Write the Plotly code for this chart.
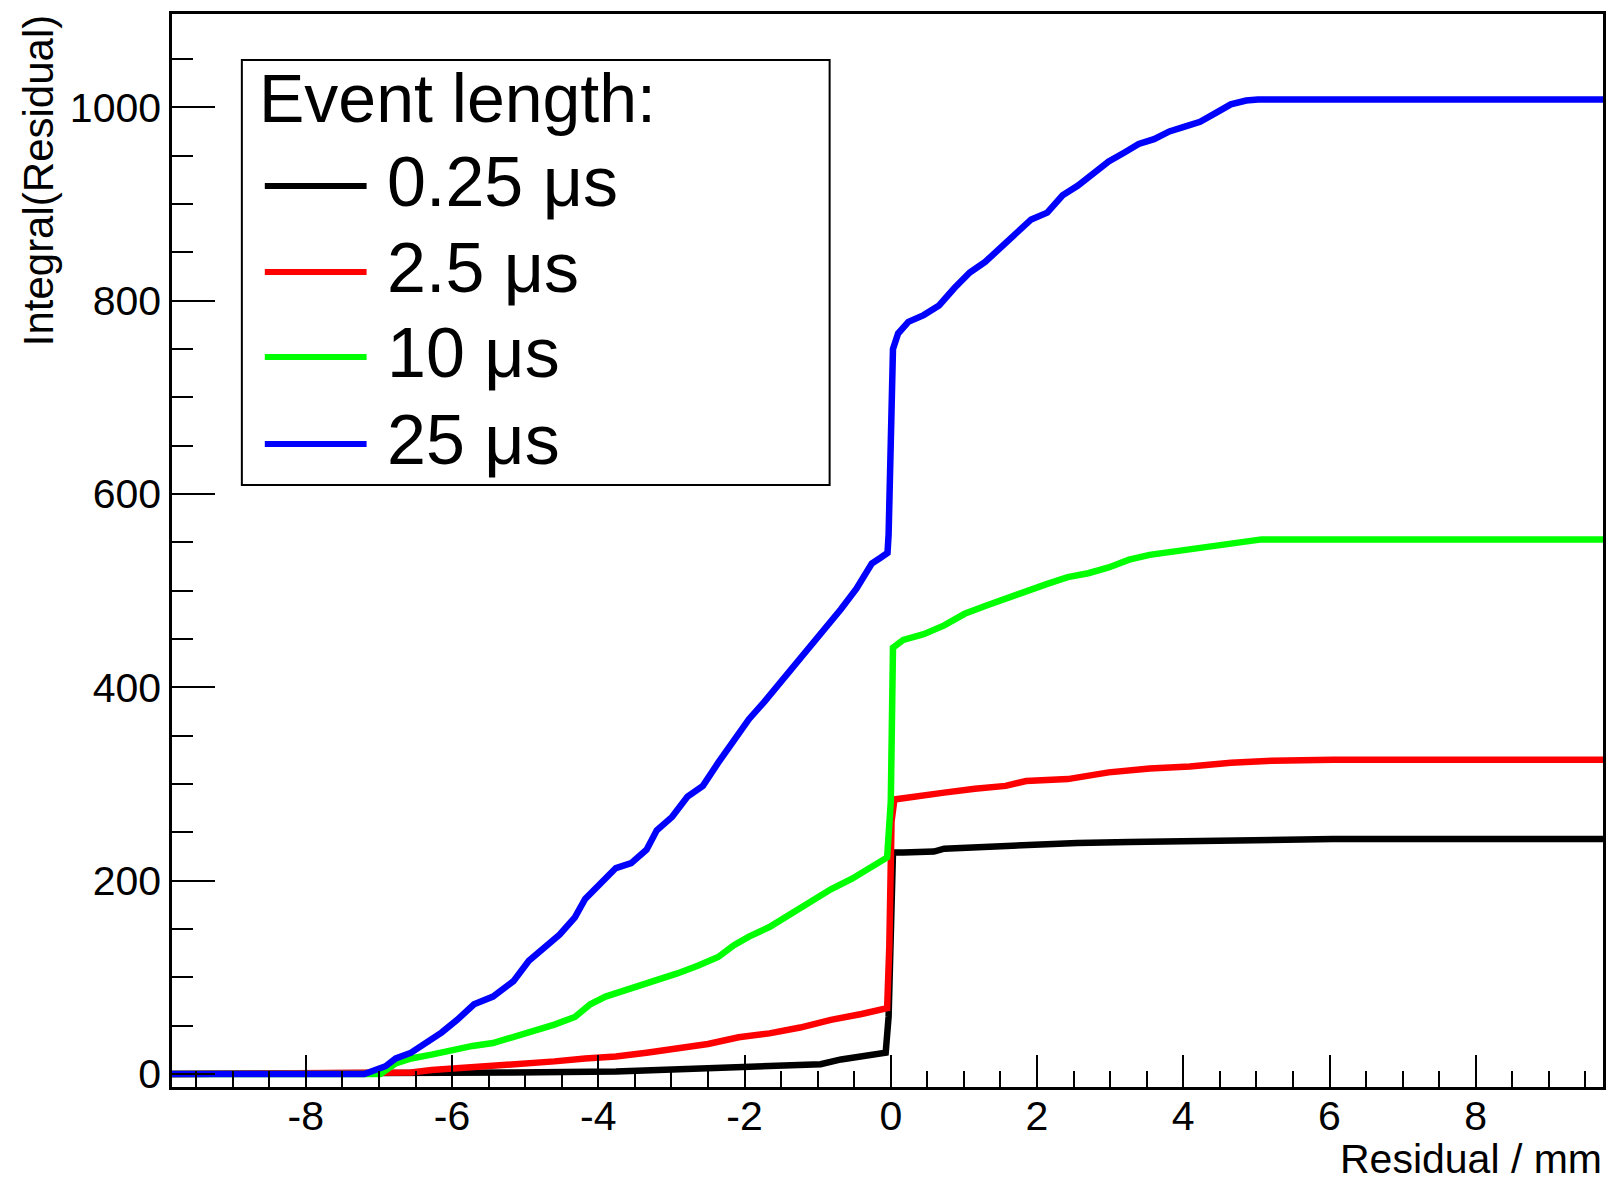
import plotly.graph_objects as go

# ---------------- data ----------------
series_names = ["0.25 μs", "2.5 μs", "10 μs", "25 μs"]
series_colors = ["#000000", "#ff0000", "#00ff00", "#0000ff"]

x_black = [-9.83, -7.0, -5.16, -3.76, -3.06, -2.36, -1.66, -0.96, -0.68, -0.40, -0.07,
           -0.03, 0.03, 0.17, 0.59, 0.73, 1.29, 1.85, 2.55, 3.26, 4.37, 5.35, 6.05, 9.74]
y_black = [0, 0, 1.5, 2.5, 4.5, 7, 8, 10, 15, 18, 22,
           59, 229, 229, 230, 233, 235, 238, 239, 240, 241, 242, 243, 243]

x_red = [-9.83, -6.84, -6.56, -6.28, -5.86, -5.44, -5.02, -4.60, -4.18, -3.76, -3.34,
         -2.92, -2.50, -2.08, -1.66, -1.24, -0.82, -0.40, -0.05, -0.02, 0.01, 0.05,
         0.30, 0.73, 1.15, 1.57, 1.85, 2.42, 2.98, 3.54, 4.09, 4.65, 5.21, 6.05, 9.74]
y_red = [0, 0, 1.5, 4, 6, 8, 10, 13, 16, 18, 22,
         27, 31, 38, 42, 48, 56, 62, 68, 133, 261, 284,
         287, 291, 295, 298, 303, 305, 312, 316, 318, 322, 324, 325, 325]

x_green = [-9.83, -6.98, -6.77, -6.56, -6.28, -6.0, -5.72, -5.44, -5.16, -4.88, -4.60,
           -4.32, -4.11, -3.90, -3.69, -3.48, -3.20, -2.92, -2.64, -2.36, -2.15, -1.94,
           -1.66, -1.38, -1.10, -0.82, -0.53, -0.26, -0.05, 0.0, 0.03, 0.17, 0.45,
           0.73, 1.01, 1.29, 1.57, 1.85, 2.14, 2.42, 2.70, 2.98, 3.26, 3.54, 3.81,
           4.09, 4.37, 4.65, 4.86, 5.07, 9.74]
y_green = [0, 0, 11, 16, 20, 25, 29, 32, 38, 44, 51,
           59, 72, 80, 85, 89, 96, 104, 112, 121, 133, 142,
           152, 165, 178, 191, 202, 215, 224, 282, 441, 449, 455,
           464, 476, 484, 492, 499, 507, 514, 518, 524, 532, 537, 540,
           542, 545, 548, 552, 553, 553]

x_blue = [-9.83, -7.20, -6.91, -6.77, -6.56, -6.35, -6.14, -5.93, -5.70, -5.44, -5.16,
          -4.95, -4.74, -4.53, -4.32, -4.18, -3.97, -3.76, -3.55, -3.34, -3.20, -2.99,
          -2.78, -2.57, -2.36, -2.15, -1.94, -1.73, -1.52, -1.31, -1.10, -0.89, -0.68,
          -0.47, -0.26, -0.14, -0.045, -0.03, 0.0, 0.03, 0.10, 0.24, 0.45, 0.66, 0.87,
          1.08, 1.29, 1.50, 1.71, 1.92, 2.14, 2.35, 2.56, 2.77, 2.98, 3.19, 3.39,
          3.60, 3.81, 4.02, 4.23, 4.44, 4.65, 4.86, 5.02, 9.74]
y_blue = [0, 0, 8, 16, 22, 32, 43, 56, 72, 80, 96,
          117, 131, 144, 162, 181, 197, 213, 218, 232, 252, 266,
          287, 298, 322, 346, 367, 385, 404, 423, 443, 463, 481,
          502, 528, 534, 539, 558, 632, 750, 766, 778, 785, 795, 813,
          829, 840, 855, 871, 884, 891, 909, 919, 932, 944, 953, 962,
          967, 975, 980, 985, 994, 1003, 1007, 1008, 1008]

xs = [x_black, x_red, x_green, x_blue]
ys = [y_black, y_red, y_green, y_blue]

x_tick_vals = [-8, -6, -4, -2, 0, 2, 4, 6, 8]
x_tick_text = ["-8", "-6", "-4", "-2", "0", "2", "4", "6", "8"]
y_tick_vals = [0, 200, 400, 600, 800, 1000]
y_tick_text = ["0", "200", "400", "600", "800", "1000"]

x_range = [-9.83, 9.74]
y_range = [-13.5, 1096.5]
x_title = "Residual / mm"
y_title = "Integral(Residual)"
legend_header = "Event length:"

FONT = "Liberation Sans, Arial, Helvetica, sans-serif"

fig = go.Figure()
for name, color, x, y in zip(series_names, series_colors, xs, ys):
    fig.add_trace(go.Scatter(x=x, y=y, mode="lines", name=name,
                             line=dict(color=color, width=6.5), showlegend=False))

axis_common = dict(showgrid=False, zeroline=False, showline=True, linecolor="black",
                   linewidth=2.5, mirror=True, ticks="inside", tickcolor="black",
                   tickwidth=2, tickfont=dict(family=FONT, size=41, color="black"))

fig.update_xaxes(range=x_range, tickmode="array", tickvals=x_tick_vals,
                 ticktext=x_tick_text, ticklen=32, ticklabelstandoff=-9,
                 minor=dict(dtick=0.5, tick0=0, ticks="inside", ticklen=16,
                            tickwidth=2, tickcolor="black"),
                 **axis_common)
fig.update_yaxes(range=y_range, tickmode="array", tickvals=y_tick_vals,
                 ticktext=y_tick_text, ticklen=43,
                 minor=dict(dtick=50, tick0=0, ticks="inside", ticklen=21,
                            tickwidth=2, tickcolor="black"),
                 **axis_common)

L, R, T, B = 172, 5, 14, 93
W, H = 1611, 1180
pw, ph = W - L - R, H - T - B


def px(xp):
    return (xp - L) / pw


def py(yp):
    return (H - B - yp) / ph


shapes = []
annotations = []

# legend box
shapes.append(dict(type="rect", xref="paper", yref="paper",
                   x0=px(242), x1=px(831), y0=py(485), y1=py(60),
                   line=dict(color="black", width=2), fillcolor="white", layer="above"))
annotations.append(dict(text=legend_header, xref="paper", yref="paper",
                        x=px(257), y=py(98), xanchor="left", yanchor="middle",
                        showarrow=False, font=dict(family=FONT, size=68, color="black")))
row_y = [186, 272, 357, 444]
for name, color, yy in zip(series_names, series_colors, row_y):
    shapes.append(dict(type="line", xref="paper", yref="paper",
                       x0=px(265), x1=px(367), y0=py(yy), y1=py(yy),
                       line=dict(color=color, width=6), layer="above"))
    annotations.append(dict(text=name, xref="paper", yref="paper",
                            x=px(385), y=py(yy - 4), xanchor="left", yanchor="middle",
                            showarrow=False,
                            font=dict(family=FONT, size=70, color="black")))

# axis titles
annotations.append(dict(text=x_title, xref="paper", yref="paper",
                        x=px(1606), y=py(1159), xanchor="right", yanchor="middle",
                        borderpad=0, showarrow=False,
                        font=dict(family=FONT, size=41, color="black")))
annotations.append(dict(text=y_title, xref="paper", yref="paper",
                        x=px(38), y=py(12), xanchor="center", yanchor="top",
                        textangle=-90, showarrow=False,
                        font=dict(family=FONT, size=42, color="black")))

fig.update_layout(width=W, height=H, margin=dict(l=L, r=R, t=T, b=B),
                  paper_bgcolor="white", plot_bgcolor="white",
                  shapes=shapes, annotations=annotations, showlegend=False)

fig.write_html("out.html")
